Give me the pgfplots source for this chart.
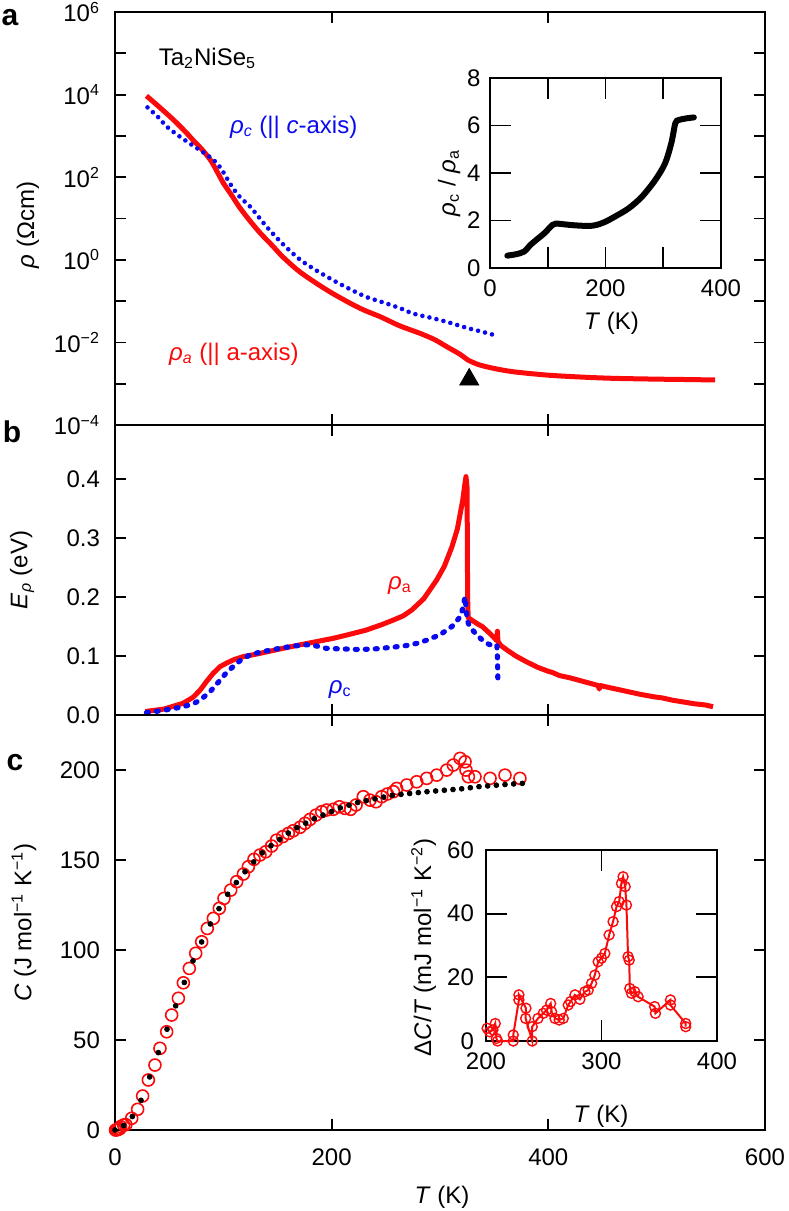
\documentclass[border=0pt]{standalone}
\usepackage{fontspec}
\setmainfont{Liberation Sans}
\usepackage{pgfplots}
\pgfplotsset{compat=1.18}
\definecolor{pred}{RGB}{250,10,10}
\definecolor{pblue}{RGB}{10,10,240}

\pgfplotsset{
  base/.style={scale only axis, tick align=inside,
    axis line style={line width=0.9pt}, every tick/.style={black, line width=0.9pt},
    tick label style={font=\fontsize{12}{14}\selectfont},
    xlabel style={font=\fontsize{12}{14}\selectfont},
    ylabel style={font=\fontsize{12}{14}\selectfont},
    /pgf/number format/assume math mode=true,
    xminorticks=false, yminorticks=false},
  main/.style={base, width=325pt, xmin=0, xmax=600, major tick length=5.5pt,
    yticklabel style={xshift=-4pt}, xticklabel style={yshift=-6pt}},
  inset/.style={base, width=115.5pt, major tick length=10.5pt},
}

\begin{document}
\begin{tikzpicture}
\path[use as bounding box] (0pt,0pt) rectangle (394pt,-605.5pt);

% panel a: resistivity
\begin{axis}[main, at={(57.5pt,-6pt)}, anchor=north west, height=206.5pt,
  ymode=log, ymin=1e-4, ymax=1e6,
  ytick={1e-4,1e-3,1e-2,1e-1,1,10,100,1e3,1e4,1e5,1e6},
  yticklabels={10\textsuperscript{−4},,10\textsuperscript{−2},,10\textsuperscript{0},,10\textsuperscript{2},,10\textsuperscript{4},,10\textsuperscript{6}},
  xtick={200,400}, xticklabels={},
  ylabel={\textit{ρ} (Ωcm)},
  ylabel style={at={(axis description cs:-0.134,0.484)}, anchor=center}]
\addplot[pred, line width=2.5pt, smooth] coordinates {
(29,9330)(40,5250)(54,2450)(65,1260)(72,794)(80,479)(88,263)(95,126)(100,72.4)
(108,35.5)(115,18.6)(125,8.5)(134,4.47)(145,2.24)(155,1.17)(170,0.525)(186,0.269)
(200,0.158)(217,0.0891)(230,0.0603)(245,0.0417)(263,0.0251)(281.5,0.0166)(295,0.0117)
(306,0.00794)(318,0.00525)(326,0.00372)(332,0.00316)(337,0.00282)(350,0.00234)
(367.5,0.00195)(398.5,0.00162)(430,0.00145)(460,0.00135)(500,0.00129)(530,0.00126)(554,0.00123)};
\addplot[pblue, line width=2.3pt, line cap=round, dash pattern=on 0pt off 3.6pt, smooth] coordinates {
(30,4900)(40,2820)(48,1660)(60,955)(70,631)(78,457)(86,331)(94,219)(100,132)(108,58.9)
(116,31.6)(125,19.1)(140,6.31)(155,2.40)(171,1.0)(186,0.550)(201,0.324)(216,0.200)
(232,0.126)(245,0.0977)(263,0.0676)(275,0.0501)(291,0.0398)(306,0.0316)(325,0.0224)
(340,0.0178)(354,0.0141)};
\addplot[only marks, mark=triangle*, mark size=5.5pt, black] coordinates {(327,1.26e-3)};
\node[anchor=base west, font=\fontsize{12}{14}\selectfont] at (axis cs:34,5.2e4) {Ta\textsubscript{2}NiSe\textsubscript{5}};
\node[anchor=base west, text=pblue, font=\fontsize{12}{14}\selectfont] at (axis cs:99.7,1.17e3) {\textit{ρ}\textsubscript{\textit{c}} (|| \textit{c}-axis)};
\node[anchor=base west, text=pred, font=\fontsize{12}{14}\selectfont] at (axis cs:43.4,3.7e-3) {\textit{ρ}\textsubscript{\textit{a}} (|| a-axis)};
\end{axis}

% inset a: anisotropy ratio
\begin{axis}[inset, at={(245pt,-39pt)}, anchor=north west, height=95pt,
  xmin=0, xmax=400, ymin=0, ymax=8,
  xtick={0,100,...,400}, xticklabels={0,,200,,400},
  ytick={0,2,4,6,8}, yticklabels={0,2,4,6,8},
  yticklabel style={xshift=-1.2pt}, xticklabel style={yshift=-2.5pt},
  xlabel={\textit{T} (K)}, ylabel={\textit{ρ}\textsubscript{c} / \textit{ρ}\textsubscript{a}},
  xlabel style={at={(axis description cs:0.526,-0.289)}, anchor=center},
  ylabel style={at={(axis description cs:-0.177,0.447)}, anchor=center}]
\addplot[black, line width=3pt, line cap=round, smooth] coordinates {
(30,0.52)(45,0.58)(59,0.69)(70,0.97)(82,1.22)(94,1.46)(108,1.81)(114,1.87)(124,1.85)
(145,1.80)(170,1.77)(184,1.81)(200,1.95)(216,2.16)(240,2.51)(263,3.0)(286,3.7)
(303,4.4)(314,5.26)(321,6.1)(327,6.23)(340,6.3)(353,6.34)};
\end{axis}

% panel b: activation energy
\begin{axis}[main, at={(57.5pt,-212.5pt)}, anchor=north west, height=145pt,
  ymin=0, ymax=0.4915,
  ytick={0,0.1,0.2,0.3,0.4}, yticklabels={0.0,0.1,0.2,0.3,0.4},
  xtick={200,400}, xticklabels={},
  ylabel={\textit{E}\textsubscript{\textit{ρ}} (eV)},
  ylabel style={at={(axis description cs:-0.143,0.5)}, anchor=center}]
\addplot[pred, line width=2.5pt, line join=round] coordinates {
(28,0.006)(45,0.010)(63,0.020)(72,0.030)(78.5,0.042)(85,0.058)(90.8,0.071)(97,0.082)
(103,0.088)(110,0.094)(118.5,0.099)(130,0.103)(140,0.107)(155,0.113)(170.8,0.119)
(185,0.124)(201.5,0.130)(215,0.136)(232,0.144)(246,0.153)(257,0.161)(266,0.168)
(274,0.178)(285,0.197)(297,0.229)(304,0.252)(311,0.285)(316,0.315)(321,0.364)
(323,0.392)(324,0.404)(325,0.385)(325.5,0.20)(326,0.165)(330,0.160)(335,0.154)
(339,0.150)(345,0.140)(350,0.131)(352.5,0.126)(353,0.142)(353.5,0.125)(356,0.118)
(362,0.110)(370,0.100)(380,0.090)(390,0.081)(400,0.074)(404,0.072)(410,0.067)
(420,0.063)(430,0.058)(440,0.053)(446,0.050)(447,0.044)(448,0.050)(455,0.047)
(465,0.043)(475,0.039)(485,0.035)(497,0.031)(505,0.029)(515,0.025)(525,0.022)
(535,0.019)(545,0.017)(552,0.014)};
\addplot[pblue, line width=2.6pt, line cap=round, dash pattern=on 1pt off 4pt] coordinates {
(29,0.004)(45,0.008)(63,0.014)(72,0.019)(78.5,0.025)(88,0.040)(97,0.059)(103,0.072)
(109,0.082)(116,0.093)(124.6,0.102)(135,0.107)(144,0.110)(152,0.113)(165,0.117)
(177,0.119)(186,0.117)(195,0.113)(210,0.112)(226,0.111)(240,0.112)(257,0.115)
(270,0.118)(280,0.122)(288,0.127)(300,0.136)(311,0.150)(318,0.165)(321,0.180)
(323,0.200)(324,0.185)(325,0.160)(328,0.148)(333,0.138)(339,0.127)(345,0.120)
(350,0.116)(352.5,0.118)(353,0.100)(353.5,0.054)};
\node[text=pred, font=\fontsize{12}{14}\selectfont] at (axis cs:263,0.220) {\textit{ρ}\textsubscript{a}};
\node[text=pblue, font=\fontsize{12}{14}\selectfont] at (axis cs:208,0.044) {\textit{ρ}\textsubscript{c}};
\end{axis}

% panel c: specific heat
\begin{axis}[main, at={(57.5pt,-357.5pt)}, anchor=north west, height=207.5pt,
  ymin=0, ymax=230.6, clip=false,
  ytick={0,50,100,150,200}, yticklabels={0,50,100,150,200},
  xtick={0,200,400,600}, xticklabels={0,200,400,600},
  xlabel={\textit{T} (K)}, ylabel={\textit{C} (J mol\textsuperscript{−1} K\textsuperscript{−1})},
  xlabel style={at={(axis description cs:0.503,-0.161)}, anchor=center},
  ylabel style={at={(axis description cs:-0.14,0.5)}, anchor=center}]
\addplot[only marks, mark=o, mark size=3pt, mark options={pred, line width=0.8pt}] coordinates {
(0.5,0)(1.5,0.1)(2.5,0.3)(3.5,0.5)(4.5,0.8)(5.2,1.9)(8,2.8)(10,3.0)(15.4,6.5)(20.9,11.5)
(25.5,18.9)(30.8,27.8)(36.9,36.1)(41.5,45.4)(47.7,54.6)(52.3,63.9)(58.5,73.2)
(63.1,81.8)(68.6,89.8)(74.5,98.2)(80,104.6)(85.2,112)(90.8,117.6)(96.3,123.2)
(100.6,128.7)(106.8,133.3)(112.3,138)(118.5,142.2)(123.1,146.3)(128.3,150.4)
(133.8,152.8)(139.1,154.6)(144.6,157.8)(149.2,161.1)(154.8,163)(160,164.8)
(164.6,166.3)(170.8,168.2)(175.4,170.4)(180,172.6)(185.5,175)(190.8,176.9)
(195.4,177.8)(201.5,178.2)(207.1,179.6)(212.3,178.7)(217.5,178.2)(222.5,180.6)
(229.2,185.2)(235.4,183.3)(240.9,182.4)(246.2,185.2)(251.4,186.7)(257,188)
(260,189.8)(269.3,191.7)(278.5,193.5)(287.7,195.4)(297,197.2)(306.2,200)
(312.3,202.8)(318.5,206.5)(323.1,204.6)(324,200)(326.2,196.3)(332.3,196.3)
(346.2,195.4)(360,197.2)(373.8,195.4)};
\addplot[only marks, mark=*, mark size=1.2pt, black] coordinates {
(0,0)(8,2.5)(16,7.5)(24,16.5)(32,29.5)(40,43)(48,56)(56,69)(64,82)(72,94)(80,104.5)
(88,114.5)(96,123)(104,131)(112,137.5)(120,143.5)(128,149)(136,154)(144,158)
(152,161.5)(160,165)(168,168)(176,170.5)(184,173)(192,175)(200,177)(208,179)
(216,180.5)(224,182)(232,183)(240,184)(248,185)(256,186)(264,186.5)(272,187)
(280,187.5)(288,188)(296,188.4)(304,188.8)(312,189.2)(320,189.6)(328,190.2)
(336,190.8)(344,191.2)(352,191.6)(360,192)(368,192.3)(376,192.6)};
\end{axis}

% inset c: excess specific heat
\begin{axis}[inset, at={(243pt,-425pt)}, anchor=north west, height=95.5pt,
  xmin=200, xmax=400, ymin=0, ymax=60, clip=false,
  xtick={200,300,400}, xticklabels={200,300,400},
  ytick={0,20,40,60}, yticklabels={0,20,40,60},
  yticklabel style={xshift=-2.5pt}, xticklabel style={yshift=-2.5pt},
  xlabel={\textit{T} (K)}, ylabel={Δ\textit{C}/\textit{T} (mJ mol\textsuperscript{−1} K\textsuperscript{−2})},
  xlabel style={at={(axis description cs:0.498,-0.393)}, anchor=center},
  ylabel style={at={(axis description cs:-0.27,0.49)}, anchor=center}]
\addplot[pred, line width=1pt, mark=o, mark size=2.5pt, mark options={line width=0.7pt}] coordinates {
(201,4.0)(203,2.9)(206,3.5)(208,5.5)(209,0.8)(210,0)(223.6,0)(223.6,1.9)(228.5,12.9)
(228.5,14.5)(234.6,10.3)(234.3,7.1)(240,0)(240,4.5)(245,7.1)(249.6,8.7)(252.4,9.7)
(256,11.8)(256.8,9.2)(259.7,7.1)(263.4,6.6)(266.9,7.1)(271.2,11.3)(273.2,12.4)
(277,14.5)(281.3,13.1)(285.6,15.5)(288.5,16)(291.4,18.1)(294.2,20.7)(297.1,24.9)
(300,26)(302.9,27.5)(306.6,33.3)(310,37.5)(313,42.2)(315.3,43.8)(317.3,49.5)
(318.7,51.6)(320.5,48.5)(321.6,42.7)(323,26.5)(324,25.4)(324.5,16.5)(326,15)
(328.8,15.5)(331.7,13.9)(346,10.8)(346.7,8.7)(359.7,12.9)(359.7,11.3)(372.9,5.5)(372.9,4.5)};
\end{axis}

\node[font=\fontsize{15}{17}\bfseries] at (5pt,-9pt) {a};
\node[font=\fontsize{15}{17}\bfseries] at (6pt,-216pt) {b};
\node[font=\fontsize{15}{17}\bfseries] at (7.5pt,-381.5pt) {c};
\end{tikzpicture}
\end{document}
